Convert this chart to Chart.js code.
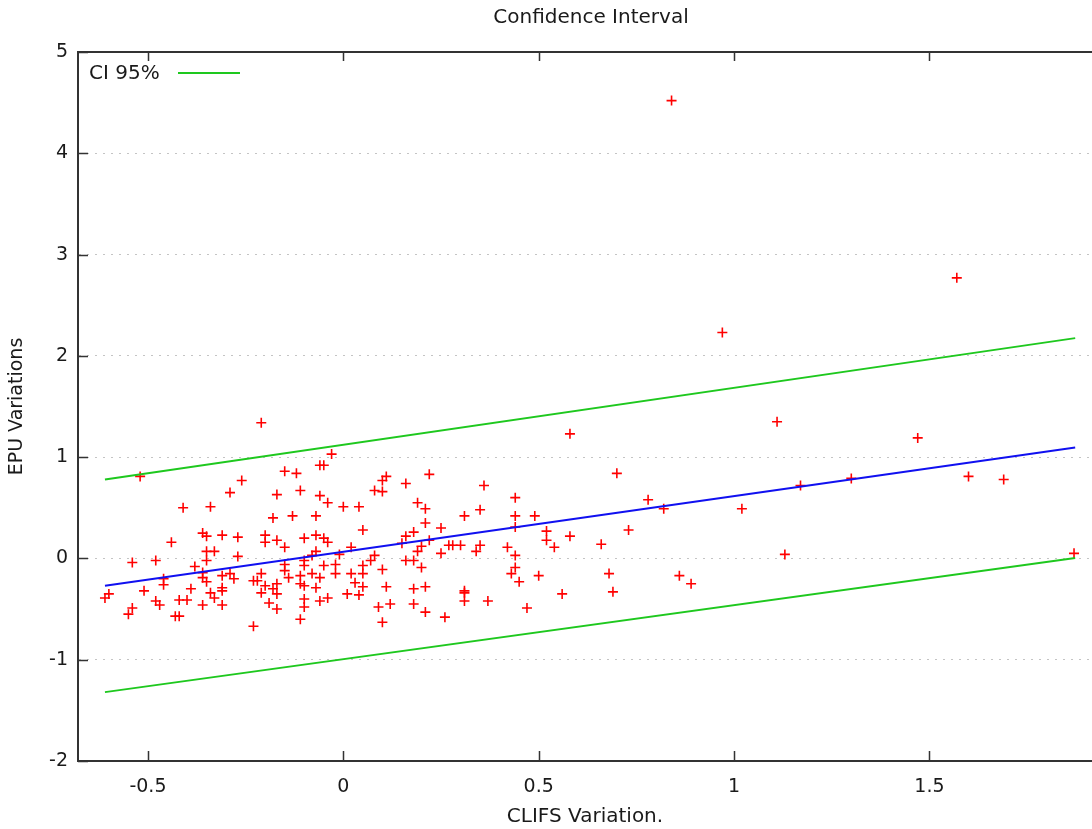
<!DOCTYPE html>
<html>
<head>
<meta charset="utf-8">
<script src="https://cdn.jsdelivr.net/npm/chart.js@4.4.1/dist/chart.umd.min.js"></script>
<style>
  html, body { margin: 0; padding: 0; background: #fff; }
  #chart { display: block; }
</style>
</head>
<body>
<canvas id="chart" width="1092" height="829"></canvas>
<script>
// CLIFS variation (x) vs EPU variation (y)
const clifsX = [
  -0.52, -0.41, -0.34, -0.44, -0.36, -0.35, -0.31, -0.54, -0.48, -0.35,
  -0.33, -0.35, -0.38, -0.36, -0.46, -0.46, -0.36, -0.35, -0.39, -0.51,
  -0.60, -0.61, -0.48, -0.47, -0.42, -0.40, -0.34, -0.33, -0.36, -0.54,
  -0.55, -0.43, -0.42, -0.31, -0.21, -0.03, -0.06, -0.05, -0.15, -0.12,
  -0.26, -0.29, -0.17, -0.11, -0.06, -0.04, -0.18, -0.13, -0.07, -0.27,
  -0.20, -0.20, -0.17, -0.15, -0.10, -0.07, -0.05, -0.04, -0.27, -0.07,
  -0.08, -0.15, -0.10, -0.10, -0.05, -0.02, -0.31, -0.29, -0.28, -0.21,
  -0.15, -0.14, -0.11, -0.08, -0.06, -0.02, -0.23, -0.22, -0.20, -0.17,
  -0.18, -0.17, -0.11, -0.10, -0.07, -0.21, -0.31, -0.31, -0.10, -0.10,
  -0.19, -0.17, -0.06, -0.04, -0.11, -0.23, 0.11, 0.10, 0.22, 0.16,
  0.08, 0.10, 0.00, 0.04, 0.19, 0.21, 0.21, 0.05, 0.18, 0.25,
  0.16, 0.15, 0.22, 0.02, 0.20, 0.19, 0.27, 0.28, 0.25, -0.01,
  0.08, 0.07, 0.05, 0.16, 0.18, 0.10, 0.20, 0.02, 0.05, 0.03,
  0.05, 0.11, 0.18, 0.21, 0.01, 0.04, 0.09, 0.12, 0.18, 0.21,
  0.26, 0.10, 0.58, 0.36, 0.44, 0.35, 0.31, 0.44, 0.49, 0.44,
  0.52, 0.52, 0.58, 0.54, 0.30, 0.35, 0.34, 0.42, 0.44, 0.44,
  0.43, 0.45, 0.50, 0.31, 0.31, 0.31, 0.37, 0.47, 0.56, 0.70,
  0.78, 0.82, 0.73, 0.66, 0.68, 0.69, 0.86, 0.89, 1.02, 1.17,
  1.30, 1.60, 1.69, 1.13, 1.87, 1.11, 1.47, 0.84, 0.97, 1.57
];
const epuY = [
  0.81, 0.50, 0.51, 0.16, 0.25, 0.22, 0.23, -0.04, -0.02, 0.07,
  0.07, -0.02, -0.08, -0.14, -0.20, -0.26, -0.19, -0.23, -0.30, -0.32,
  -0.35, -0.39, -0.42, -0.46, -0.41, -0.41, -0.34, -0.39, -0.46, -0.49,
  -0.55, -0.57, -0.57, -0.46, 1.34, 1.03, 0.92, 0.92, 0.86, 0.84,
  0.77, 0.65, 0.63, 0.67, 0.62, 0.55, 0.40, 0.42, 0.42, 0.21,
  0.23, 0.16, 0.18, 0.11, 0.20, 0.23, 0.20, 0.16, 0.02, 0.07,
  0.03, -0.06, -0.02, -0.07, -0.07, -0.06, -0.17, -0.15, -0.20, -0.15,
  -0.12, -0.19, -0.17, -0.15, -0.19, -0.15, -0.22, -0.22, -0.27, -0.25,
  -0.30, -0.35, -0.25, -0.27, -0.29, -0.34, -0.29, -0.32, -0.40, -0.48,
  -0.44, -0.50, -0.42, -0.39, -0.60, -0.67, 0.81, 0.77, 0.83, 0.74,
  0.67, 0.66, 0.51, 0.51, 0.55, 0.49, 0.35, 0.28, 0.26, 0.30,
  0.22, 0.15, 0.18, 0.11, 0.12, 0.07, 0.13, 0.13, 0.05, 0.04,
  0.03, -0.02, -0.07, -0.02, -0.02, -0.11, -0.09, -0.15, -0.15, -0.24,
  -0.28, -0.28, -0.30, -0.28, -0.35, -0.36, -0.48, -0.45, -0.45, -0.53,
  -0.58, -0.63, 1.23, 0.72, 0.60, 0.48, 0.42, 0.42, 0.42, 0.31,
  0.27, 0.18, 0.22, 0.11, 0.13, 0.13, 0.07, 0.11, 0.03, -0.09,
  -0.15, -0.23, -0.17, -0.32, -0.34, -0.42, -0.42, -0.49, -0.35, 0.84,
  0.58, 0.49, 0.28, 0.14, -0.15, -0.33, -0.17, -0.25, 0.49, 0.72,
  0.79, 0.81, 0.78, 0.04, 0.05, 1.35, 1.19, 4.52, 2.23, 2.77
];

// fitted line and 95% band, end points
const lineX = [-0.61, 1.873];
const fitY = [-0.27, 1.095];
const upperY = [0.78, 2.175];
const lowerY = [-1.32, 0.005];

const xTicks = [-0.5, 0, 0.5, 1, 1.5];

const FONT = "'DejaVu Sans', Verdana, sans-serif";
const TEXT = "#1a1a1a";
const AXIS = "#333";
const GREEN = "#1ec81e";

const toPts = (xs, ys) => xs.map((x, i) => ({ x: x, y: ys[i] }));

// gnuplot-ish frame: inward ticks, top border, title and legend
const framePlugin = {
  id: "frame",
  afterDraw(chart) {
    const ctx = chart.ctx;
    const { left, right, top, bottom } = chart.chartArea;
    const xs = chart.scales.x;
    const ys = chart.scales.y;
    ctx.save();
    ctx.strokeStyle = AXIS;
    ctx.lineWidth = 2;
    ctx.beginPath();
    ctx.moveTo(left - 1, top);
    ctx.lineTo(right, top);
    ctx.stroke();

    ctx.lineWidth = 1.5;
    ctx.beginPath();
    xTicks.forEach((v) => {
      const px = Math.round(xs.getPixelForValue(v)) + 0.5;
      ctx.moveTo(px, bottom);
      ctx.lineTo(px, bottom - 10);
      ctx.moveTo(px, top);
      ctx.lineTo(px, top + 9);
    });
    ys.ticks.forEach((t) => {
      const py = Math.round(ys.getPixelForValue(t.value)) + 0.5;
      ctx.moveTo(left, py);
      ctx.lineTo(left + 10, py);
    });
    ctx.stroke();

    // title
    ctx.fillStyle = TEXT;
    ctx.font = "20px " + FONT;
    ctx.textAlign = "center";
    ctx.textBaseline = "middle";
    ctx.fillText("Confidence Interval", 591, 18);

    // legend
    ctx.textAlign = "left";
    ctx.fillText("CI 95%", 89, 74);
    ctx.strokeStyle = GREEN;
    ctx.lineWidth = 2;
    ctx.beginPath();
    ctx.moveTo(178, 73);
    ctx.lineTo(240, 73);
    ctx.stroke();
    ctx.restore();
  },
};

const lineStyle = (color) => ({
  type: "line",
  showLine: true,
  borderColor: color,
  backgroundColor: color,
  borderWidth: 2,
  pointRadius: 0,
  fill: false,
  tension: 0,
});

new Chart(document.getElementById("chart"), {
  type: "scatter",
  data: {
    datasets: [
      { label: "fit", data: toPts(lineX, fitY), ...lineStyle("#1010f0") },
      { label: "CI 95%", data: toPts(lineX, upperY), ...lineStyle(GREEN) },
      { label: "CI 95% low", data: toPts(lineX, lowerY), ...lineStyle(GREEN) },
      {
        label: "EPU",
        data: toPts(clifsX, epuY),
        pointStyle: "cross",
        pointRadius: 5,
        pointBorderWidth: 1.6,
        borderColor: "#ff0000",
        backgroundColor: "#ff0000",
      },
    ],
  },
  options: {
    responsive: false,
    animation: false,
    devicePixelRatio: 1,
    layout: { autoPadding: false, padding: { top: 52, right: 0, bottom: 0, left: 0 } },
    plugins: {
      legend: { display: false },
      title: { display: false },
      tooltip: { enabled: false },
    },
    scales: {
      x: {
        type: "linear",
        min: -0.679,
        max: 1.916,
        afterFit: (s) => { s.height = 68; },
        ticks: {
          stepSize: 0.5,
          includeBounds: false,
          padding: 15,
          color: TEXT,
          font: { family: FONT, size: 19 },
          callback: (v) => String(v),
        },
        grid: { display: false, drawTicks: false },
        border: { display: true, color: AXIS, width: 2 },
        title: {
          display: true,
          text: "CLIFS Variation.",
          color: TEXT,
          font: { family: FONT, size: 20 },
          padding: { top: 0, bottom: 0 },
        },
      },
      y: {
        type: "linear",
        min: -2,
        max: 5,
        afterFit: (s) => { s.width = 78; },
        ticks: {
          stepSize: 1,
          padding: 10,
          color: TEXT,
          font: { family: FONT, size: 19 },
        },
        grid: { color: "#c4c4c4", lineWidth: 1, drawTicks: false },
        border: { display: true, color: AXIS, width: 2, dash: [2, 6] },
        title: {
          display: true,
          text: "EPU Variations",
          color: TEXT,
          font: { family: FONT, size: 19 },
          padding: { top: 6, bottom: 0 },
        },
      },
    },
  },
  plugins: [framePlugin],
});
</script>
</body>
</html>
